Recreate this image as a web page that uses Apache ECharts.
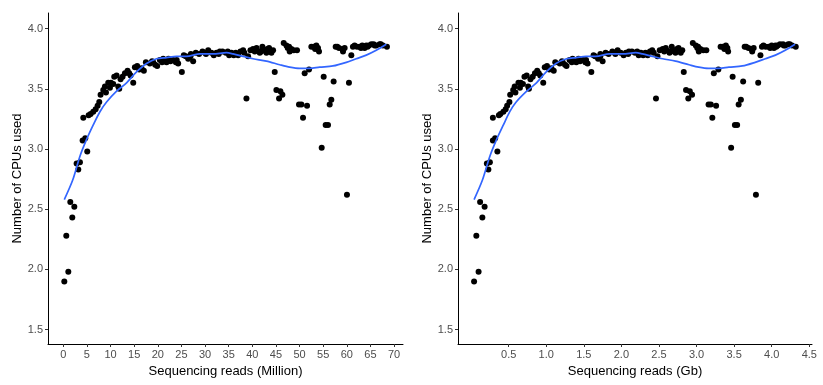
<!DOCTYPE html>
<html><head><meta charset="utf-8">
<script src="https://cdn.jsdelivr.net/npm/echarts@6/dist/echarts.min.js"></script>
<style>html,body{margin:0;padding:0;background:#fff}#c{width:823px;height:385px}</style>
</head><body><div id="c"></div>
<script>
// Sequencing reads (Million) for each sample
const readsMillion = [0.21,0.63,1.06,1.48,1.90,2.33,2.82,3.17,3.52,4.09,4.23,4.65,5.07,5.36,5.78,6.34,6.84,7.26,7.61,7.89,
8.46,8.81,9.02,9.51,9.87,10.08,10.57,10.78,11.28,11.63,11.84,12.12,12.54,13.04,13.60,13.95,14.24,14.80,15.15,15.64,
16.07,16.56,17.05,17.48,18.32,19.03,19.45,19.87,20.44,21.14,21.49,21.85,22.27,22.69,23.26,23.82,24.31,25.09,25.51,25.93,
26.43,26.92,27.48,28.05,28.75,29.46,29.95,30.66,31.36,31.85,32.42,33.12,33.69,34.39,35.10,35.59,36.08,37.00,37.49,38.06,
38.76,39.11,39.61,40.17,40.52,41.01,41.58,42.14,42.64,42.99,43.55,44.05,44.40,44.75,45.10,45.67,45.95,46.37,46.65,47.22,
47.78,47.92,48.27,48.77,49.47,49.89,50.39,50.74,51.09,51.59,52.01,52.50,53.00,53.56,53.91,54.12,54.69,55.11,55.53,56.03,
56.38,56.73,57.22,57.65,58.35,59.06,59.20,59.55,60.04,60.46,60.96,61.66,62.16,62.72,63.28,63.78,64.13,64.69,65.19,65.68,
66.24,66.95,67.65,68.50,
27.0,30.2,32.9,34.8,36.5,38.3,40.9,41.9,43.2,47.5,53.3,58.0,61.3,63.0,64.4,65.9,67.2,18.8,20.9,24.0];
// Sequencing reads (Gb) for the same samples
const readsGb = [0.04,0.07,0.10,0.12,0.15,0.18,0.21,0.23,0.25,0.29,0.29,0.32,0.35,0.37,0.39,0.43,0.46,0.48,0.51,0.52,
0.56,0.58,0.59,0.63,0.65,0.66,0.69,0.71,0.74,0.76,0.77,0.79,0.82,0.85,0.88,0.90,0.92,0.96,0.98,1.01,
1.04,1.07,1.10,1.12,1.18,1.22,1.25,1.27,1.31,1.35,1.38,1.40,1.43,1.45,1.49,1.52,1.55,1.60,1.63,1.65,
1.69,1.72,1.75,1.79,1.83,1.88,1.91,1.95,1.99,2.03,2.06,2.10,2.14,2.18,2.23,2.26,2.29,2.35,2.38,2.41,
2.46,2.48,2.51,2.55,2.57,2.60,2.64,2.67,2.70,2.72,2.76,2.79,2.81,2.83,2.86,2.89,2.91,2.94,2.95,2.99,
3.02,3.03,3.05,3.09,3.13,3.16,3.19,3.21,3.23,3.26,3.29,3.32,3.35,3.39,3.41,3.42,3.46,3.48,3.51,3.54,
3.56,3.59,3.62,3.64,3.69,3.73,3.74,3.76,3.79,3.82,3.85,3.89,3.92,3.96,4.00,4.03,4.05,4.08,4.11,4.15,
4.18,4.22,4.27,4.32,
1.72,1.92,2.09,2.21,2.32,2.43,2.59,2.66,2.74,3.01,3.37,3.66,3.87,3.98,4.06,4.16,4.24,1.21,1.34,1.53];
// Number of CPUs used
const cpus = [1.90,2.28,1.98,2.56,2.43,2.52,2.88,2.83,2.89,3.07,3.26,3.09,2.98,3.28,3.29,3.31,3.33,3.36,3.39,3.45,
3.49,3.52,3.47,3.55,3.51,3.55,3.54,3.60,3.61,3.52,3.50,3.58,3.60,3.63,3.65,3.63,3.61,3.55,3.68,3.69,
3.66,3.67,3.65,3.72,3.71,3.72,3.70,3.69,3.74,3.75,3.73,3.72,3.75,3.73,3.74,3.72,3.71,3.64,3.78,3.77,
3.75,3.77,3.73,3.80,3.79,3.81,3.80,3.82,3.80,3.78,3.80,3.81,3.81,3.80,3.78,3.80,3.78,3.78,3.81,3.82,
3.42,3.77,3.82,3.83,3.81,3.82,3.80,3.85,3.82,3.80,3.84,3.80,3.82,3.64,3.49,3.42,3.48,3.45,3.88,3.86,
3.85,3.81,3.83,3.82,3.82,3.37,3.37,3.26,3.63,3.36,3.66,3.85,3.85,3.86,3.84,3.81,3.01,3.60,3.20,3.20,
3.37,3.41,3.56,3.85,3.84,3.83,3.81,3.84,2.62,3.55,3.78,3.86,3.85,3.85,3.86,3.84,3.86,3.86,3.87,3.87,
3.86,3.87,3.86,3.85,
3.79,3.79,3.79,3.81,3.80,3.80,3.84,3.81,3.83,3.84,3.83,3.85,3.85,3.84,3.85,3.86,3.87,3.73,3.72,3.74];
// Smoothed trend
const smoothMillion = [0.21,1.97,3.52,4.93,6.34,7.75,9.16,11.28,13.39,15.5,17.62,19.73,21.85,23.96,26.07,28.9,31.71,34.53,35.94,38.06,40.17,42.99,45.81,47.92,50.04,52.15,54.26,57.08,59.9,62.0,64.13,66.24,68.36];
const smoothGb = [0.04,0.15,0.25,0.34,0.43,0.515,0.60,0.74,0.87,1.00,1.13,1.27,1.40,1.53,1.66,1.84,2.02,2.19,2.28,2.41,2.55,2.72,2.90,3.03,3.16,3.30,3.43,3.61,3.78,3.915,4.05,4.18,4.31];
const smoothCpus = [2.58,2.74,2.94,3.08,3.20,3.31,3.39,3.48,3.55,3.64,3.71,3.75,3.76,3.77,3.77,3.79,3.79,3.80,3.79,3.77,3.75,3.73,3.70,3.68,3.67,3.67,3.68,3.69,3.72,3.75,3.78,3.82,3.87];
// Tick labels
const xTicksMillion = [0,5,10,15,20,25,30,35,40,45,50,55,60,65,70];
const xTicksGb = [0.5,1.0,1.5,2.0,2.5,3.0,3.5,4.0,4.5];
const yTicks = [1.5,2.0,2.5,3.0,3.5,4.0];

const FONT = 'Liberation Sans, Arial, sans-serif';
function zip(a, b) { return a.map((v, i) => [v, b[i]]); }
function xAxis(gi, min, max, ticks, name, fmt) {
  return {
    type: 'value', gridIndex: gi, min: min, max: max,
    name: name, nameLocation: 'middle', nameGap: 21,
    nameTextStyle: { color: '#000', fontSize: 13, fontFamily: FONT },
    axisLine: { show: true, onZero: false, lineStyle: { color: '#000', width: 1 } },
    axisTick: { show: true, length: 3, customValues: ticks, lineStyle: { color: '#333' } },
    axisLabel: { customValues: ticks, margin: 5, color: '#4D4D4D', fontSize: 11, fontFamily: FONT, formatter: fmt },
    splitLine: { show: false }
  };
}
function yAxis(gi) {
  return {
    type: 'value', gridIndex: gi, min: 1.38, max: 4.13,
    name: 'Number of CPUs used', nameLocation: 'middle', nameGap: 24, nameRotate: 90,
    nameTextStyle: { color: '#000', fontSize: 13, fontFamily: FONT },
    axisLine: { show: true, onZero: false, lineStyle: { color: '#000', width: 1 } },
    axisTick: { show: true, length: 3, customValues: yTicks, lineStyle: { color: '#333' } },
    axisLabel: { customValues: yTicks, margin: 5, color: '#4D4D4D', fontSize: 11, fontFamily: FONT, formatter: v => v.toFixed(1) },
    splitLine: { show: false }
  };
}
const chart = echarts.init(document.getElementById('c'), null, { renderer: 'canvas' });
chart.setOption({
  backgroundColor: '#fff',
  animation: false,
  grid: [
    { left: 48, top: 13, width: 355, height: 331 },
    { left: 458, top: 13, width: 354, height: 331 }
  ],
  xAxis: [
    xAxis(0, -3.24, 71.9, xTicksMillion, 'Sequencing reads (Million)', v => String(v)),
    xAxis(1, -0.174, 4.536, xTicksGb, 'Sequencing reads (Gb)', v => v.toFixed(1))
  ],
  yAxis: [yAxis(0), yAxis(1)],
  series: [
    { type: 'scatter', xAxisIndex: 0, yAxisIndex: 0, data: zip(readsMillion, cpus), symbolSize: 6, itemStyle: { color: '#000', opacity: 1 } },
    { type: 'line', xAxisIndex: 0, yAxisIndex: 0, data: zip(smoothMillion, smoothCpus), showSymbol: false, smooth: 0.3, lineStyle: { color: '#3366FF', width: 1.7 } },
    { type: 'scatter', xAxisIndex: 1, yAxisIndex: 1, data: zip(readsGb, cpus), symbolSize: 6, itemStyle: { color: '#000', opacity: 1 } },
    { type: 'line', xAxisIndex: 1, yAxisIndex: 1, data: zip(smoothGb, smoothCpus), showSymbol: false, smooth: 0.3, lineStyle: { color: '#3366FF', width: 1.7 } }
  ]
});
</script>
</body></html>
